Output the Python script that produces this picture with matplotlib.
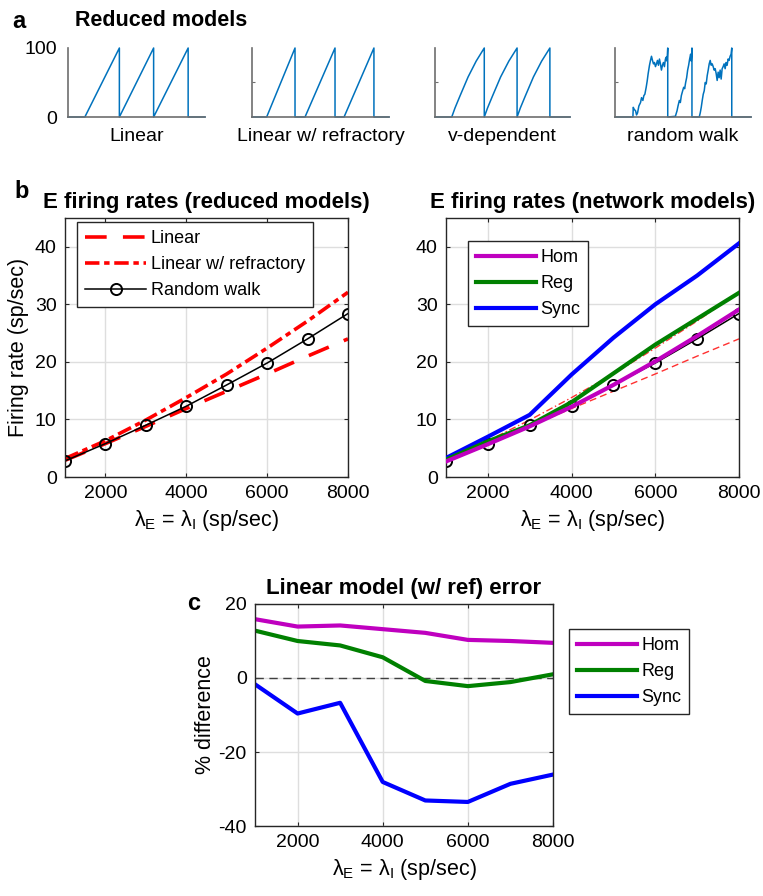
import numpy as np
import matplotlib
matplotlib.use('Agg')
import matplotlib.pyplot as plt

plt.rcParams['font.family'] = ['Liberation Sans', 'DejaVu Sans']
plt.rcParams['mathtext.fontset'] = 'custom'
plt.rcParams['mathtext.rm'] = 'Liberation Sans'
plt.rcParams['axes.unicode_minus'] = False

# ---- panel a: example voltage traces
lin_t = [0, 12.3, 37.5, 37.5, 62.5, 62.5, 87.7, 87.7, 100]
lin_v = [0, 0, 100, 0, 100, 0, 100, 0, 0]

ref_t = [0, 10.7, 31.4, 31.4, 38.7, 60.6, 60.6, 67.2, 89.0, 89.0, 100]
ref_v = [0, 0, 100, 0, 0, 100, 0, 0, 100, 0, 0]

vdep_t = [0, 12.4, 14.8, 18.4, 24.5, 30.5, 36.5, 36.5, 38.9, 42.5, 48.6, 54.7, 60.8,
          60.8, 63.2, 66.8, 72.9, 79.0, 85.1, 85.1, 100]
vdep_v = [0, 0, 13, 30, 58, 81, 100, 0, 13, 30, 58, 81, 100,
          0, 13, 30, 58, 81, 100, 0, 0]

rw_t = [0, 54, 55, 58, 62, 65, 68, 72, 77, 80, 84, 87, 90, 94, 97, 100, 104, 107, 110,
        113, 116, 119, 122, 125, 128, 131, 134, 137, 140, 143, 146, 149, 152, 155, 157,
        159, 159, 182, 187, 190, 194, 197, 200, 204, 207, 210, 213, 216, 219, 222, 225,
        228, 230, 232, 232, 254, 257, 260, 263, 266, 269, 272, 275, 278, 281, 284, 287,
        290, 293, 296, 299, 302, 305, 308, 311, 314, 317, 320, 323, 326, 329, 332, 335,
        338, 341, 344, 347, 350, 352, 352, 410]
rw_v = [0, 0, 14, 11, 9, 3, 6, 16, 21, 28, 24, 31, 33, 43, 52, 63, 75, 82, 88,
        82, 77, 79, 73, 77, 82, 75, 84, 77, 68, 75, 79, 73, 84, 87, 81,
        100, 0, 1, 9, 16, 24, 21, 31, 38, 43, 41, 50, 57, 68, 75, 84,
        91, 81, 100, 0, 0, 6, 14, 24, 33, 38, 50, 48, 60, 68, 77, 82,
        75, 77, 73, 68, 70, 63, 53, 65, 57, 68, 55, 70, 73, 77, 70, 79,
        75, 84, 82, 88, 91, 100, 0, 0]

trace_names = ['Linear', 'Linear w/ refractory', 'v-dependent', 'random walk']

# ---- panel b: firing rates
lam = [1000, 2000, 3000, 4000, 5000, 6000, 7000, 8000]
rate_linear = [2.9, 5.8, 8.8, 11.9, 14.9, 17.9, 21.0, 24.0]
rate_linref = [3.2, 6.3, 9.9, 13.8, 17.9, 22.4, 27.1, 32.1]
rate_rw = [2.8, 5.8, 9.0, 12.3, 16.0, 19.8, 24.0, 28.4]
rate_hom = [2.7, 5.7, 8.8, 12.2, 16.0, 20.1, 24.5, 29.1]
rate_reg = [3.0, 6.2, 9.0, 13.0, 18.0, 23.0, 27.5, 32.0]
rate_sync = [3.3, 7.0, 10.8, 17.8, 24.2, 30.0, 35.0, 40.6]

# ---- panel c: % difference of linear w/ ref model
err_hom = [15.9, 13.9, 14.2, 13.2, 12.2, 10.3, 10.0, 9.5]
err_reg = [12.8, 10.0, 8.8, 5.6, -0.8, -2.2, -1.1, 1.0]
err_sync = [-1.7, -9.6, -6.7, -28.1, -33.1, -33.5, -28.6, -26.1]

W, H = 763, 896
fig = plt.figure(figsize=(W / 100, H / 100), dpi=100)

def frac(x0, y0, x1, y1):
    return [x0 / W, 1 - y1 / H, (x1 - x0) / W, (y1 - y0) / H]

trace_blue = '#0072BD'
boxcol = '#262626'
gridcol = '#dedede'
magenta = '#BF00BF'
green = '#008000'
blue = '#0000FF'

# panel a
a_boxes = [(68, 48, 205, 117), (252, 48, 389, 117), (435, 48, 570, 117), (615, 48, 751, 117)]
traces = [(lin_t, lin_v), (ref_t, ref_v), (vdep_t, vdep_v), (rw_t, rw_v)]
for i, (box, (tt, vv)) in enumerate(zip(a_boxes, traces)):
    ax = fig.add_axes(frac(*box))
    ax.plot(tt, vv, color=trace_blue, lw=1.1, clip_on=False)
    ax.set_xlim(tt[0], tt[-1])
    ax.set_ylim(0, 100)
    for s in ['top', 'right']:
        ax.spines[s].set_visible(False)
    for s in ['left', 'bottom']:
        ax.spines[s].set_color('#6e6e6e')
        ax.spines[s].set_linewidth(1.2)
    ax.set_xticks([])
    if i == 0:
        ax.set_yticks([0, 100])
        ax.tick_params(axis='y', direction='in', length=0, labelsize=14, pad=8)
    else:
        ax.set_yticks([50])
        ax.set_yticklabels([])
        ax.tick_params(axis='y', direction='in', length=2, color='#6e6e6e')
    ax.set_xlabel(trace_names[i], fontsize=14, labelpad=8)

fig.text(75 / W, 1 - 20 / H, 'Reduced models', fontsize=15.5, fontweight='bold', va='center')
fig.text(12 / W, 1 - 22 / H, 'a', fontsize=17, fontweight='bold', va='center')

def style_axes(ax):
    ax.grid(True, color=gridcol, lw=1)
    ax.set_axisbelow(True)
    for s in ax.spines.values():
        s.set_color(boxcol)
        s.set_linewidth(1)
    ax.tick_params(direction='in', length=3, labelsize=14, top=True, right=True,
                   color=boxcol, pad=6)

legend_kw = dict(fontsize=13, fancybox=False, edgecolor=boxcol, framealpha=1,
                 borderpad=0.45, labelspacing=0.5, handletextpad=0.25, borderaxespad=0)

xlab = r'$\mathregular{\lambda_E}$ = $\mathregular{\lambda_I}$ (sp/sec)'

# panel b left
axL = fig.add_axes(frac(65, 218, 348, 477))
axL.plot(lam, rate_linear, color='red', lw=2.6, ls=(0, (6, 4.5)), label='Linear')
axL.plot(lam, rate_linref, color='red', lw=2.6, ls=(0, (4, 1.3, 1.5, 1.3)),
         label='Linear w/ refractory')
axL.plot(lam, rate_rw, color='black', lw=1.1, marker='o', ms=8, mfc='none', mew=1.4,
         label='Random walk')
axL.set_xlim(1000, 8000)
axL.set_ylim(0, 45)
axL.set_xticks([2000, 4000, 6000, 8000])
axL.set_yticks([0, 10, 20, 30, 40])
style_axes(axL)
axL.set_ylabel('Firing rate (sp/sec)', fontsize=15.5, labelpad=4)
axL.set_xlabel(xlab, fontsize=15.5, labelpad=4)
axL.set_title('E firing rates (reduced models)', fontsize=16, fontweight='bold', pad=7)
axL.legend(loc='upper left', bbox_to_anchor=(0.042, 0.985), handlelength=3.4, **legend_kw)
fig.text(14 / W, 1 - 192 / H, 'b', fontsize=17, fontweight='bold', va='center')

# panel b right
axR = fig.add_axes(frac(446, 218, 739, 477))
axR.plot(lam, rate_linear, color='#ff3030', lw=1, ls=(0, (5, 3)))
axR.plot(lam, rate_linref, color='#ff3030', lw=1, ls=(0, (5, 2, 1, 2)))
axR.plot(lam, rate_rw, color='black', lw=1.1, marker='o', ms=8, mfc='none', mew=1.4)
axR.plot(lam, rate_sync, color=blue, lw=3, label='Sync', zorder=3)
axR.plot(lam, rate_reg, color=green, lw=3, label='Reg', zorder=3)
axR.plot(lam, rate_hom, color=magenta, lw=3, label='Hom', zorder=3)
axR.set_xlim(1000, 8000)
axR.set_ylim(0, 45)
axR.set_xticks([2000, 4000, 6000, 8000])
axR.set_yticks([0, 10, 20, 30, 40])
style_axes(axR)
axR.set_xlabel(xlab, fontsize=15.5, labelpad=4)
axR.set_title('E firing rates (network models)', fontsize=16, fontweight='bold', pad=7)
h, l = axR.get_legend_handles_labels()
axR.legend(h[::-1], l[::-1], loc='upper left', bbox_to_anchor=(0.075, 0.911),
           handlelength=3.3, **legend_kw)

# panel c
axC = fig.add_axes(frac(255, 604, 553, 826))
axC.axhline(0, color='#404040', lw=1, ls=(0, (6, 4)))
axC.plot(lam, err_hom, color=magenta, lw=3, label='Hom')
axC.plot(lam, err_reg, color=green, lw=3, label='Reg')
axC.plot(lam, err_sync, color=blue, lw=3, label='Sync')
axC.set_xlim(1000, 8000)
axC.set_ylim(-40, 20)
axC.set_xticks([2000, 4000, 6000, 8000])
axC.set_yticks([-40, -20, 0, 20])
style_axes(axC)
axC.set_ylabel('% difference', fontsize=15.5, labelpad=2)
axC.set_xlabel(xlab, fontsize=15.5, labelpad=4)
axC.set_title('Linear model (w/ ref) error', fontsize=16, fontweight='bold', pad=7)
axC.legend(loc='upper left', bbox_to_anchor=(569 / W, 1 - 629 / H),
           bbox_transform=fig.transFigure, handlelength=3.3, **legend_kw)
fig.text(187 / W, 1 - 603 / H, 'c', fontsize=17, fontweight='bold', va='center')

fig.savefig('out.png', dpi=100)
